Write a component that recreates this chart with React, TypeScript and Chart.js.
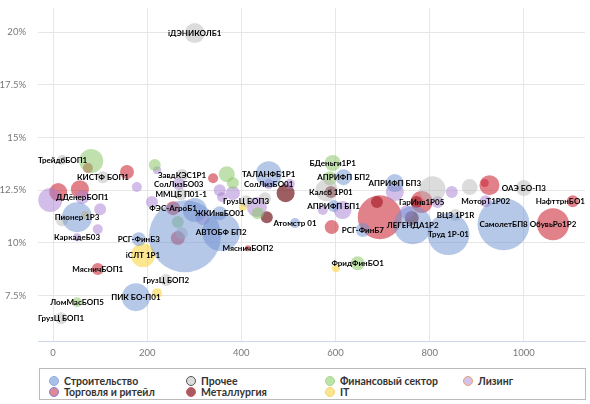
import React, { useEffect, useRef } from 'react';
import { Chart, registerables } from 'chart.js';
Chart.register(...registerables);

type Pt = [string, number, number, number]; // label, x (volume), y (yield %), bubble size

const construction: Pt[] = [
  ['ТАЛАНФБ1Р1', 458, 13.26, 13],
  ['Пионер 1Р3', 51, 11.22, 15],
  ['РСГ-ФинБ3', 182, 10.18, 7],
  ['ПИК БО-П01', 176, 7.43, 14],
  ['', 280, 10.32, 36],
  ['АВТОБФ БП2', 357, 10.51, 19],
  ['', 301, 11.56, 12],
  ['ЖКИнвБО01', 354, 11.41, 7],
  ['Атомстр 01', 514, 10.94, 5],
  ['АПРИФП БП2', 617, 13.12, 8],
  ['АПРИФП БП1', 596, 11.75, 6],
  ['РСГ-ФинБ7', 658, 10.61, 7],
  ['АПРИФП БП3', 726, 12.84, 9],
  ['ЛЕГЕНДА1Р2', 764, 10.84, 19],
  ['Труд 1Р-01', 840, 10.42, 21],
  ['СамолетБП8', 957, 10.89, 26],
];

const other: Pt[] = [
  ['iДЭНИКОЛБ1', 301, 19.95, 10],
  ['ТрейдбБОП1', 19, 13.93, 5],
  ['КИСТФ БОП1', 106, 13.12, 6],
  ['', 19, 11.08, 6],
  ['ЗавдКЭС1Р1', 274, 13.22, 6],
  ['ММЦБ П01-1', 272, 12.31, 6],
  ['ГрузЦ БОП3', 410, 11.98, 6],
  ['', 450, 12.12, 6],
  ['ГрузЦ БОП2', 240, 8.24, 6],
  ['ГрузЦ БОП1', 17, 6.43, 6],
  ['', 581, 12.5, 11],
  ['', 806, 12.55, 13],
  ['ВЦЗ 1Р1R', 855, 11.32, 6],
  ['ОАЭ БО-П3', 1000, 12.6, 8],
  ['', 273, 10.46, 6],
  ['', 885, 12.65, 8],
];

const finance: Pt[] = [
  ['', 81, 13.88, 12],
  ['', 216, 13.69, 6],
  ['', 369, 13.26, 8],
  ['', 382, 12.84, 6],
  ['', 435, 11.41, 6],
  ['', 265, 10.99, 6],
  ['БДеньги1Р1', 594, 13.79, 8],
  ['', 588, 13.07, 7],
  ['ФридФинБО1', 647, 9.04, 7],
  ['ЛомМасБОП5', 51, 7.19, 5],
];

const leasing: Pt[] = [
  ['', -6, 12.03, 12],
  ['ДДёнерБОП1', 62, 12.17, 7],
  ['', 178, 12.65, 5],
  ['', 210, 11.94, 6],
  ['', 100, 11.6, 6],
  ['', 95, 10.65, 5],
  ['КаркадеБ03', 51, 10.27, 4],
  ['', 221, 13.45, 4],
  ['СолЛизБО03', 267, 12.79, 6],
  ['', 354, 12.5, 6],
  ['', 359, 12.17, 5],
  ['', 382, 12.36, 7],
  ['', 318, 11.18, 7],
  ['', 433, 11.7, 10],
  ['СолЛизБО01', 458, 12.79, 5],
  ['', 503, 12.79, 5],
  ['', 615, 11.56, 9],
  ['', 573, 11.56, 5],
  ['', 726, 12.41, 9],
  ['', 751, 11.46, 7],
  ['', 847, 12.41, 6],
  ['', 817, 11.94, 6],
  ['МоторТ1Р02', 919, 11.98, 6],
];

const trade: Pt[] = [
  ['', 74, 13.55, 5],
  ['', 157, 13.36, 7],
  ['', 11, 12.41, 9],
  ['', 57, 12.55, 9],
  ['МясничБОП1', 95, 8.76, 6],
  ['', 340, 13.07, 5],
  ['ФЭС-АгроБ1', 255, 11.65, 7],
  ['', 265, 10.23, 7],
  ['МясничБОП2', 414, 9.75, 3],
  ['', 592, 10.75, 7],
  ['', 694, 11.22, 22],
  ['ГарИнв1Р05', 783, 11.94, 11],
  ['', 927, 12.74, 10],
  ['', 917, 12.84, 4],
  ['ОбувьРо1Р2', 1062, 10.89, 16],
  ['НафттрнБО1', 1104, 11.98, 6],
];

const metals: Pt[] = [
  ['', 494, 12.36, 9],
  ['', 454, 11.22, 6],
  ['Калсб 1Р01', 590, 12.41, 6],
  ['', 688, 11.94, 6],
  ['', 772, 11.94, 6],
  ['', 762, 11.18, 7],
];

const itSector: Pt[] = [
  ['', 68, 11.32, 4],
  ['iСЛТ 1Р1', 191, 9.42, 12],
  ['', 221, 7.62, 5],
  ['', 403, 11.7, 4],
  ['', 601, 8.8, 4],
];

const seriesNames = ['Строительство', 'Прочее', 'Финансовый сектор', 'Лизинг', 'Торговля и ритейл', 'Металлургия', 'IT'];
const seriesData = [construction, other, finance, leasing, trade, metals, itSector];
const seriesFill = [
  'rgba(110,145,210,0.5)',
  'rgba(185,185,185,0.5)',
  'rgba(140,200,105,0.55)',
  'rgba(165,125,210,0.5)',
  'rgba(205,45,60,0.6)',
  'rgba(115,25,30,0.7)',
  'rgba(250,215,70,0.6)',
];
const legendFill = ['#a9c0e7', '#dcdcdc', '#bde3a8', '#d3c2e9', '#e08893', '#a45c61', '#fae591'];
const legendBorder = ['#8eaee0', '#555555', '#a8d890', '#eba070', '#7d7fe0', '#e25563', '#f3d46a'];

const xTicks = [0, 200, 400, 600, 800, 1000];
const yTicks = [7.5, 10, 12.5, 15, 17.5, 20];

const labelPlugin = {
  id: 'bubbleLabels',
  afterDatasetsDraw(chart: any) {
    const ctx = chart.ctx;
    const area = chart.chartArea;
    ctx.save();
    ctx.font = 'bold 8px Lato';
    ctx.fillStyle = '#000';
    ctx.textAlign = 'center';
    ctx.textBaseline = 'middle';
    chart.data.datasets.forEach((ds: any, di: number) => {
      const meta = chart.getDatasetMeta(di);
      meta.data.forEach((el: any, i: number) => {
        const lbl = ds.data[i].label;
        if (!lbl) return;
        const w = ctx.measureText(lbl).width;
        const x = Math.min(Math.max(el.x, area.left + w / 2), area.right - w / 2);
        ctx.fillText(lbl, x, el.y);
      });
    });
    ctx.restore();
  },
};

export default function App() {
  const ref = useRef<HTMLCanvasElement>(null);
  useEffect(() => {
    if (!ref.current) return;
    const chart = new Chart(ref.current, {
      type: 'bubble',
      data: {
        datasets: seriesData.map((arr, i) => ({
          label: seriesNames[i],
          data: arr.map(([label, x, y, r]) => ({ x, y, r, label })) as any,
          backgroundColor: seriesFill[i],
          borderWidth: 0,
          hoverRadius: 0,
        })),
      },
      options: {
        responsive: false,
        animation: false,
        devicePixelRatio: 1,
        layout: { autoPadding: false, padding: { top: 8, right: 5, left: 0, bottom: 0 } },
        plugins: { legend: { display: false }, tooltip: { enabled: false } },
        events: [],
        scales: {
          x: {
            type: 'linear',
            min: -32,
            max: 1130,
            afterBuildTicks: (s: any) => { s.ticks = xTicks.map((v) => ({ value: v })); },
            afterFit: (s: any) => { s.height = 23; s.paddingLeft = 0; s.paddingRight = 0; },
            ticks: { padding: 6, color: '#777', maxRotation: 0, autoSkip: false, font: { family: 'Lato', size: 9.5 }, callback: (v: any) => String(v) },
            grid: { color: '#e6e6e6', drawTicks: false },
            border: { color: '#ccd6eb' },
          },
          y: {
            type: 'linear',
            min: 5.35,
            max: 21.14,
            afterBuildTicks: (s: any) => { s.ticks = yTicks.map((v) => ({ value: v })); },
            afterFit: (s: any) => { s.width = 38; s.paddingTop = 0; s.paddingBottom = 0; },
            ticks: {
              padding: 12,
              autoSkip: false,
              color: '#777',
              font: { family: 'Lato', size: 9.5 },
              callback: (v: any) => `${v}%`,
            },
            grid: { color: '#e6e6e6', drawTicks: false },
            border: { display: false },
          },
        },
      } as any,
      plugins: [labelPlugin],
    });
    return () => chart.destroy();
  }, []);

  const cols = [9, 146, 285, 423];
  const rows = [12, 23];
  const order = [[0, 1, 2, 3], [4, 5, 6]];

  return (
    <div style={{ position: 'absolute', left: 0, top: 0, width: 590, height: 404 }}>
      <canvas ref={ref} width={590} height={364} style={{ display: 'block', width: 590, height: 364 }} />
      <div
        style={{
          position: 'absolute', left: 39, top: 368, width: 547, height: 32,
          border: '1px solid #bbb', boxSizing: 'border-box',
          fontFamily: 'Lato', fontWeight: 700, fontSize: 10.5, color: '#333',
        }}
      >
        {order.map((row, ri) => row.map((si, ci) => (
          <div key={si} style={{ position: 'absolute', left: cols[ci], top: rows[ri] - 7, height: 14, display: 'flex', alignItems: 'center', whiteSpace: 'nowrap' }}>
            <span style={{ display: 'inline-block', width: 8, height: 8, borderRadius: '50%', background: legendFill[si], border: `1px solid ${legendBorder[si]}`, marginRight: 5 }} />
            <span>{seriesNames[si]}</span>
          </div>
        )))}
      </div>
    </div>
  );
}
